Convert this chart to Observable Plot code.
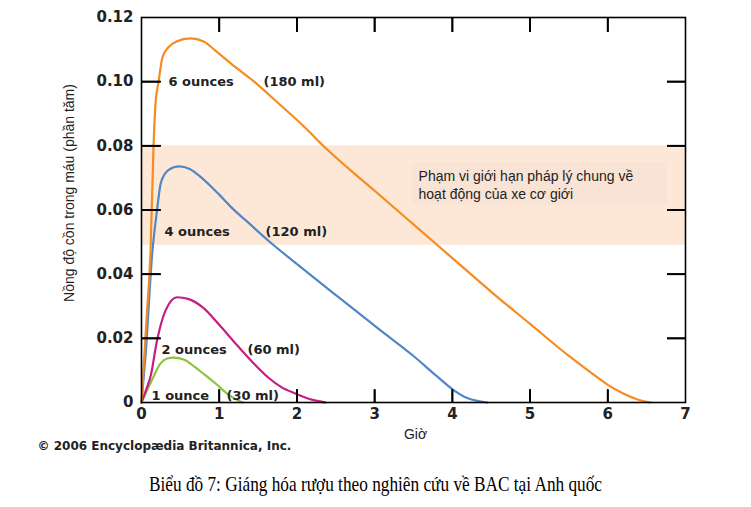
<!DOCTYPE html>
<html>
<head>
<meta charset="utf-8">
<script src="https://cdn.jsdelivr.net/npm/d3@7"></script>
<script src="https://cdn.jsdelivr.net/npm/@observablehq/plot@0.6"></script>
<style>
  html, body { margin: 0; padding: 0; background: #fff; }
</style>
</head>
<body>
<div id="chart"></div>
<script>
// ---- data (hours, blood alcohol concentration) ----
const t1oz = [0, 0.08, 0.15, 0.245, 0.33, 0.41, 0.55, 0.69, 0.82, 0.95, 1.1, 1.2, 1.3];
const v1oz = [0, 0.0042, 0.0078, 0.0122, 0.0137, 0.014, 0.0133, 0.011, 0.0085, 0.006, 0.0028, 0.0012, 0];

const t2oz = [0, 0.06, 0.12, 0.2, 0.31, 0.46, 0.6, 0.785, 1.0, 1.21, 1.42, 1.63, 1.8, 1.98, 2.2, 2.37];
const v2oz = [0, 0.004, 0.0085, 0.0193, 0.0287, 0.0328, 0.0323, 0.0297, 0.0242, 0.0184, 0.0128, 0.0078, 0.0048, 0.0028, 0.0008, 0];

const t4oz = [0, 0.05, 0.14, 0.2, 0.245, 0.3, 0.35, 0.48, 0.62, 0.785, 1.0, 1.17, 1.4, 1.63, 2.07, 2.5, 3.08, 3.5, 3.8, 4.02, 4.2, 4.45];
const v4oz = [0, 0.014, 0.047, 0.06, 0.068, 0.0712, 0.0725, 0.0736, 0.0728, 0.0698, 0.0648, 0.0605, 0.0555, 0.0505, 0.0418, 0.0335, 0.0224, 0.0145, 0.0082, 0.0038, 0.0013, 0];

const t6oz = [0, 0.03, 0.07, 0.116, 0.155, 0.18, 0.22, 0.27, 0.35, 0.45, 0.63, 0.8, 0.95, 1.21, 1.43, 1.75, 2.07, 2.4, 3.0, 3.5, 4.0, 4.5, 5.0, 5.5, 5.8, 6.0, 6.2, 6.4, 6.55];
const v6oz = [0, 0.012, 0.028, 0.047, 0.08, 0.093, 0.10, 0.1076, 0.1108, 0.1125, 0.1135, 0.1125, 0.1097, 0.1045, 0.1004, 0.0935, 0.0865, 0.0786, 0.066, 0.0555, 0.045, 0.0345, 0.0245, 0.0145, 0.009, 0.0055, 0.0028, 0.0008, 0];

const seriesNames = ["1 ounce", "2 ounces", "4 ounces", "6 ounces"];
const seriesVolumes = ["(30 ml)", "(60 ml)", "(120 ml)", "(180 ml)"];
const seriesColors = ["#8cc43f", "#c51f80", "#4f87c7", "#f68b1f"];

const xTicks = [0, 1, 2, 3, 4, 5, 6, 7];
const yTicks = [0, 0.02, 0.04, 0.06, 0.08, 0.10, 0.12];
const yTickLabels = ["0", "0.02", "0.04", "0.06", "0.08", "0.10", "0.12"];

const legalLow = 0.049, legalHigh = 0.08;
const legalText = "Phạm vi giới hạn pháp lý chung về\nhoạt động của xe cơ giới";
const yLabel = "Nồng độ cồn trong máu (phần tăm)";
const xLabel = "Giờ";
const credit = "© 2006 Encyclopædia Britannica, Inc.";
const caption = "Biểu đồ 7: Giáng hóa rượu theo nghiên cứu về BAC tại Anh quốc";

// annotation anchor positions (data units)
const nameT = [0.13, 0.257, 0.296, 0.347];
const nameV = [0.0022, 0.0165, 0.0533, 0.1];
const volT = [1.094, 1.364, 1.596, 1.57];
const noteBox = {x1: 3.488, x2: 6.77, y1: 0.0614, y2: 0.0748};
const notePos = {x: 3.565, y: 0.0708};

// ---- build tables ----
const tArr = [t1oz, t2oz, t4oz, t6oz];
const vArr = [v1oz, v2oz, v4oz, v6oz];
const rows = [];
seriesNames.forEach((s, i) => tArr[i].forEach((t, j) => rows.push({series: s, t, v: vArr[i][j]})));
const labels = seriesNames.map((s, i) => ({name: s, vol: seriesVolumes[i], t: nameT[i], v: nameV[i], tv: volT[i]}));

const W = 751, H = 507, mL = 141, mR = 66, mT = 17, mB = 105;
const frameW = W - mL - mR, frameH = H - mT - mB;
const xLo = xTicks[0], xHi = xTicks[xTicks.length - 1];
const yLo = yTicks[0], yHi = yTicks[yTicks.length - 1];
const xInner = xTicks.slice(1, -1);
const yInner = yTicks.slice(1, -1);

const tickFont = "DejaVu Sans";
const sans = "Liberation Sans, Arial, sans-serif";
const noLabel = () => "";

const chart = Plot.plot({
  width: W,
  height: H,
  marginLeft: mL,
  marginRight: mR,
  marginTop: mT,
  marginBottom: mB,
  style: {background: "#fff", fontFamily: sans},
  x: {domain: [xLo, xHi]},
  y: {domain: [yLo, yHi]},
  color: {domain: seriesNames, range: seriesColors},
  marks: [
    Plot.rect([0], {x1: () => xLo, x2: () => xHi, y1: () => legalLow, y2: () => legalHigh, fill: "#fde8d7"}),
    Plot.rect([noteBox], {x1: "x1", x2: "x2", y1: "y1", y2: "y2", fill: "#f9e3d5"}),
    Plot.text([notePos], {x: "x", y: "y", text: () => legalText, textAnchor: "start", lineAnchor: "middle", lineHeight: 1.3, fontSize: 14, fontFamily: sans, fill: "#222", dy: 9}),
    Plot.line(rows, {x: "t", y: "v", z: "series", stroke: "series", strokeWidth: 2.2, curve: "monotone-x"}),
    Plot.text(labels, {x: "t", y: "v", text: "name", textAnchor: "start", fontSize: 13, fontWeight: "bold", fontFamily: tickFont, fill: "#222"}),
    Plot.text(labels, {x: "tv", y: "v", text: "vol", textAnchor: "start", fontSize: 13, fontWeight: "bold", fontFamily: tickFont, fill: "#222"}),
    Plot.frame({stroke: "black", strokeWidth: 1.6}),
    // inward ticks: axis ticks pointing outward from the opposite side, shifted across the frame
    Plot.axisY({anchor: "right", ticks: yInner, tickSize: 19, tickFormat: noLabel, label: null, dx: -frameW, stroke: "black", strokeWidth: 1.8}),
    Plot.axisY({anchor: "left", ticks: yInner, tickSize: 18, tickFormat: noLabel, label: null, dx: frameW, stroke: "black", strokeWidth: 1.8}),
    Plot.axisX({anchor: "bottom", ticks: xInner, tickSize: 15, tickFormat: noLabel, label: null, dy: -frameH, stroke: "black", strokeWidth: 1.8}),
    Plot.axisX({anchor: "top", ticks: xInner, tickSize: 13, tickFormat: noLabel, label: null, dy: frameH, stroke: "black", strokeWidth: 1.8}),
    Plot.tickY(yInner, {y: d => d, insetRight: frameW - 19, stroke: "black", strokeWidth: 1.8}),
    Plot.tickY(yInner, {y: d => d, insetLeft: frameW - 18, stroke: "black", strokeWidth: 1.8}),
    Plot.tickX(xInner, {x: d => d, insetBottom: frameH - 15, stroke: "black", strokeWidth: 1.8}),
    Plot.tickX(xInner, {x: d => d, insetTop: frameH - 13, stroke: "black", strokeWidth: 1.8}),
    Plot.axisY({ticks: yTicks, tickSize: 0, tickPadding: 8, tickFormat: d => yTickLabels[yTicks.indexOf(d)], label: null, fontSize: 15, fontWeight: "bold", fontFamily: tickFont, fill: "#222"}),
    Plot.axisX({ticks: xTicks, tickSize: 0, tickPadding: 6, tickFormat: d => String(d), label: null, fontSize: 15, fontWeight: "bold", fontFamily: tickFont, fill: "#222"}),
    Plot.text([yLabel], {frameAnchor: "left", text: d => d, textAnchor: "middle", rotate: -90, dx: -72, dy: -17, fontSize: 14, fontFamily: sans, fill: "#222"}),
    Plot.text([xLabel], {frameAnchor: "bottom", text: d => d, dx: 2, dy: 36, fontSize: 14, fontFamily: sans, fill: "#222"}),
    Plot.text([credit], {frameAnchor: "bottom-left", text: d => d, textAnchor: "start", dx: -104, dy: 47, fontSize: 12, fontWeight: "bold", fontFamily: tickFont, fill: "#222"}),
    Plot.text([caption], {frameAnchor: "bottom", text: d => d, dx: -38, dy: 88, fontSize: 21, fontFamily: "Liberation Serif, Times New Roman, serif", fill: "#000"})
  ]
});

document.getElementById("chart").appendChild(chart);
d3.select(chart).selectAll("text")
  .filter(function() { return this.textContent === caption; })
  .attr("textLength", 453)
  .attr("lengthAdjust", "spacingAndGlyphs");
</script>
</body>
</html>
